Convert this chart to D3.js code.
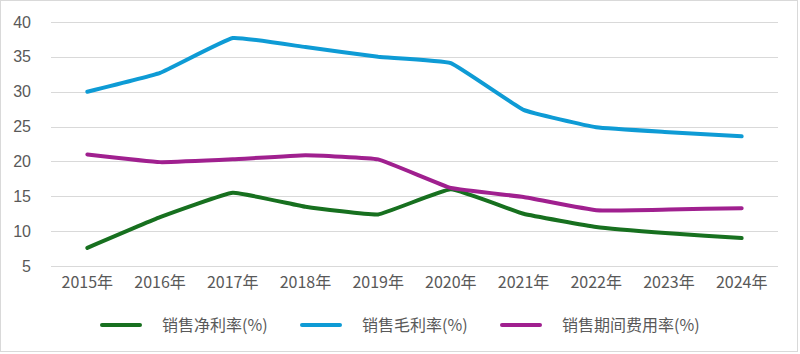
<!DOCTYPE html>
<html>
<head>
<meta charset="utf-8">
<script src="https://cdn.jsdelivr.net/npm/d3@7"></script>
<style>
  html, body { margin: 0; padding: 0; background: #fff; }
  svg { display: block; }
  text { font-family: "Noto Sans CJK SC", "Noto Sans", sans-serif; fill: #595959; }
</style>
</head>
<body>
<div id="chart"></div>
<script>
// ---- data ----
const years = ['2015年', '2016年', '2017年', '2018年', '2019年', '2020年', '2021年', '2022年', '2023年', '2024年'];
const netMargin = [7.6, 12.0, 15.5, 13.5, 12.4, 16.0, 12.5, 10.6, 9.7, 9.0];
const grossMargin = [30.0, 32.7, 37.7, 36.4, 35.0, 34.1, 27.4, 24.9, 24.2, 23.6];
const expenseRate = [21.0, 19.9, 20.3, 20.9, 20.3, 16.2, 14.9, 13.0, 13.1, 13.3];
const yTicks = [5, 10, 15, 20, 25, 30, 35, 40];

const seriesNames = ['销售净利率(%)', '销售毛利率(%)', '销售期间费用率(%)'];
const seriesColors = ['#17701f', '#0e9bd5', '#a0208f'];
const seriesValues = [netMargin, grossMargin, expenseRate];

const W = 800, H = 354;
const M = { top: 22, right: 22, bottom: 88, left: 51 };

const svg = d3.select('#chart').append('svg').attr('width', W).attr('height', H);

// outer frame
svg.append('rect').attr('x', 0.5).attr('y', 0.5).attr('width', W - 3).attr('height', H - 3)
  .attr('fill', '#fff').attr('stroke', '#d9d9d9');

const innerW = W - M.left - M.right;
const innerH = H - M.top - M.bottom;
const g = svg.append('g').attr('transform', `translate(${M.left},${M.top})`);

const x = d3.scaleBand().domain(years).range([0, innerW]);
const y = d3.scaleLinear().domain([5, 40]).range([innerH, 0]);

// gridlines
g.append('g').selectAll('line').data(yTicks).join('line')
  .attr('x1', 0).attr('x2', innerW)
  .attr('y1', d => Math.round(y(d)) + 0.5).attr('y2', d => Math.round(y(d)) + 0.5)
  .attr('stroke', '#d9d9d9').attr('stroke-width', 1);

// y axis
const yAx = g.append('g').call(d3.axisLeft(y).tickValues(yTicks).tickSize(0).tickPadding(20));
yAx.select('.domain').remove();
yAx.selectAll('text').style('font-size', '16px').attr('fill', '#595959')
  .style('font-family', '"Liberation Sans", Arial, sans-serif');

// x axis
const xAx = g.append('g').attr('transform', `translate(0,${innerH})`)
  .call(d3.axisBottom(x).tickSize(0).tickPadding(11));
xAx.select('.domain').remove();
xAx.selectAll('text').style('font-size', '16px').attr('fill', '#595959');

// lines (light smoothing, like the spreadsheet original)
const line = d3.line()
  .x((d, i) => x(years[i]) + x.bandwidth() / 2)
  .y(d => y(d))
  .curve(d3.curveCardinal.tension(0.7));

seriesValues.forEach((vals, k) => {
  g.append('path').datum(vals)
    .attr('fill', 'none')
    .attr('stroke', seriesColors[k])
    .attr('stroke-width', 4)
    .attr('stroke-linecap', 'round')
    .attr('stroke-linejoin', 'round')
    .attr('d', line);
});

// legend
const lg = svg.append('g').attr('transform', 'translate(100,325)');
seriesNames.forEach((name, k) => {
  const item = lg.append('g').attr('transform', `translate(${k * 200},0)`);
  item.append('line').attr('x1', 2).attr('x2', 40).attr('y1', 0).attr('y2', 0)
    .attr('stroke', seriesColors[k]).attr('stroke-width', 4).attr('stroke-linecap', 'round');
  item.append('text').attr('x', 62).attr('y', 6).style('font-size', '16px').text(name);
});
</script>
</body>
</html>
